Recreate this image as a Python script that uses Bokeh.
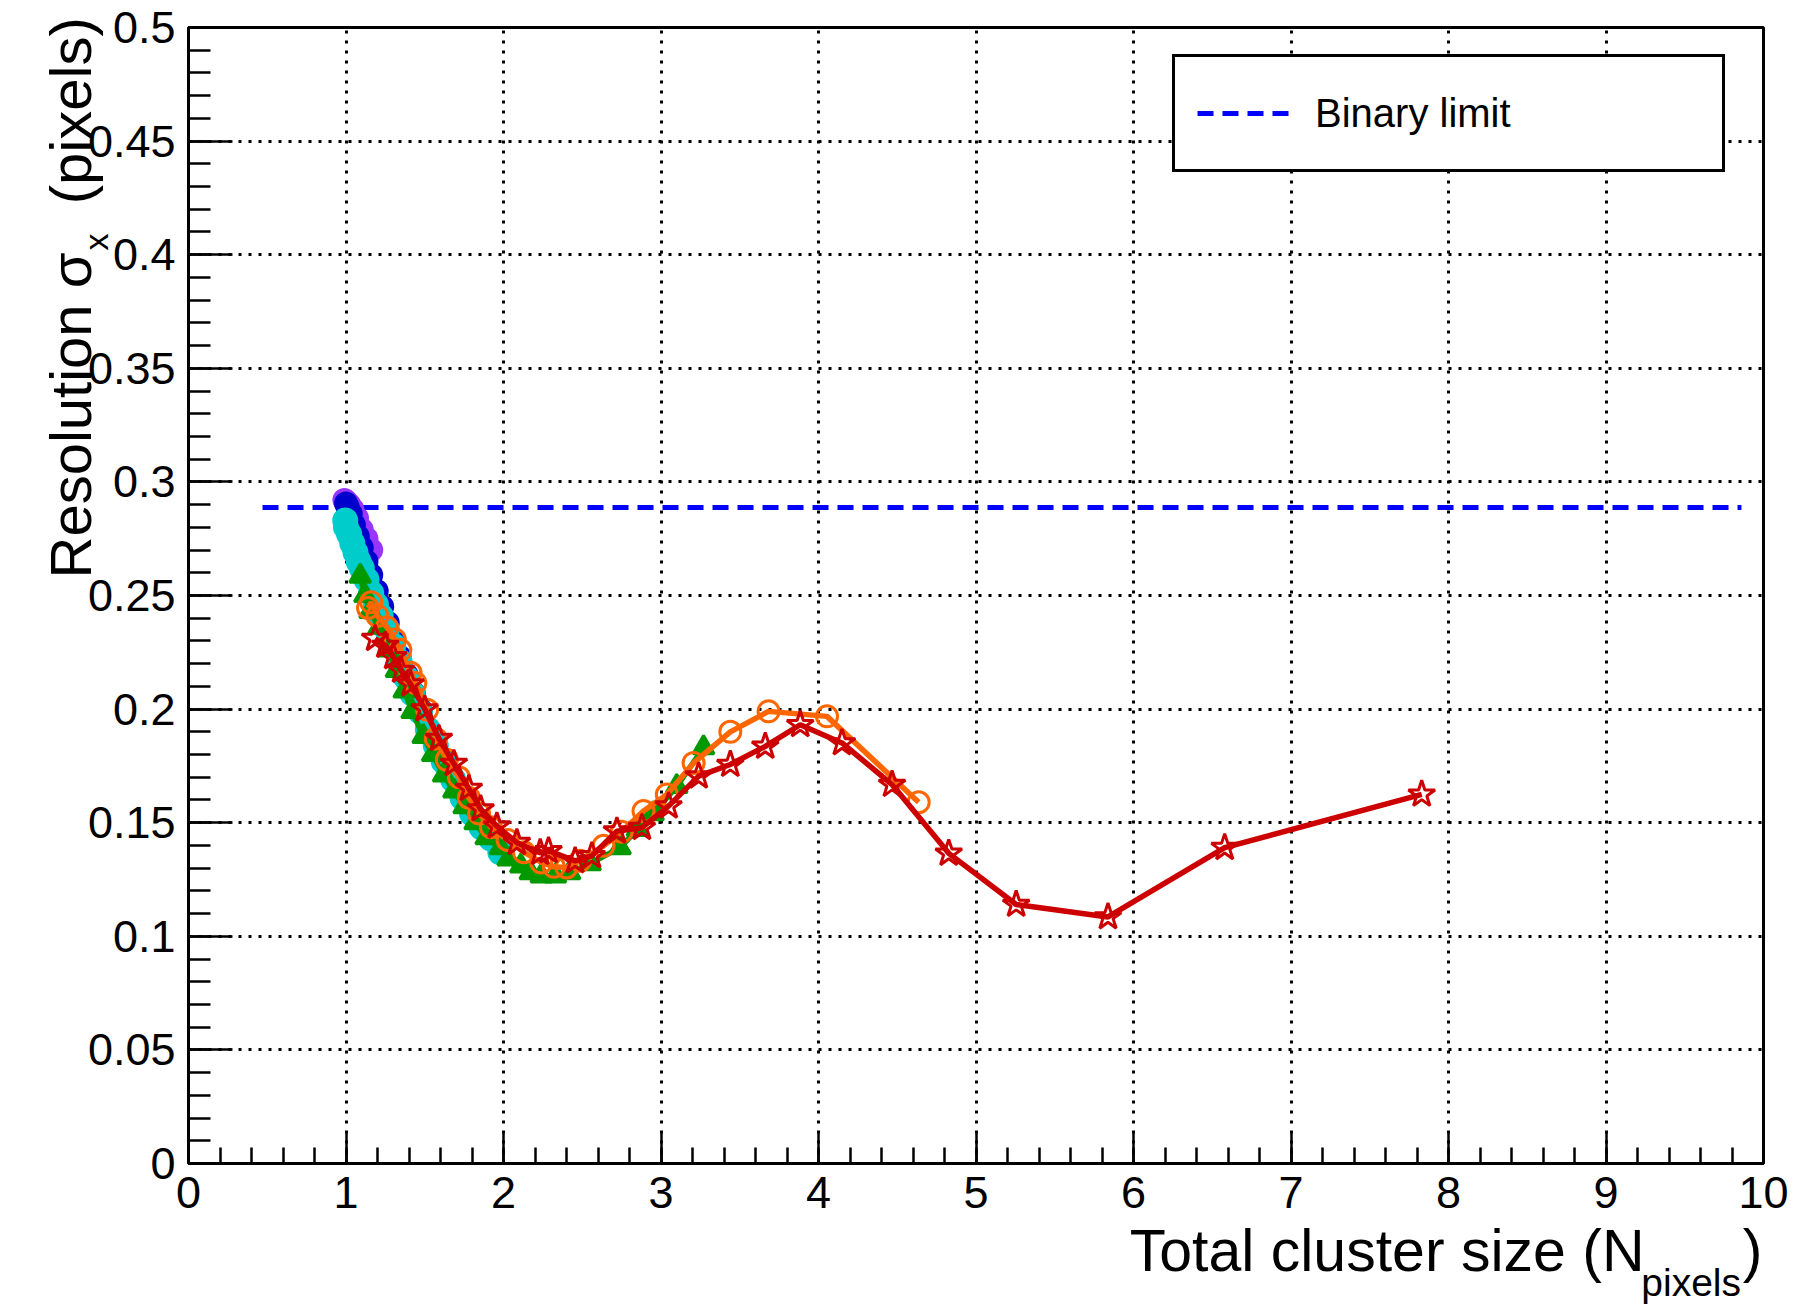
from bokeh.plotting import figure
from bokeh.models import (FixedTicker, CustomJSTickFormatter, Label, Legend, LegendItem,
                          Range1d, LinearAxis)
from bokeh.embed import file_html
from bokeh.resources import INLINE

# ---------------- data ----------------
purple_x = [0.99, 1.00, 1.02, 1.04, 1.07, 1.10, 1.13, 1.16]
purple_y = [0.292, 0.2915, 0.290, 0.288, 0.284, 0.279, 0.275, 0.270]

blue_x = [1.00, 1.01, 1.03, 1.05, 1.075, 1.10, 1.13, 1.16, 1.195, 1.23, 1.265, 1.30, 1.34, 1.385, 1.43, 1.47]
blue_y = [0.2905, 0.289, 0.286, 0.281, 0.276, 0.271, 0.265, 0.259, 0.252, 0.245, 0.238, 0.231, 0.223,
          0.215, 0.207, 0.200]

cyan_x = [0.995, 1.00, 1.02, 1.04, 1.06, 1.08, 1.10, 1.13, 1.16, 1.19, 1.22, 1.26, 1.30, 1.34, 1.38,
          1.42, 1.47, 1.52, 1.57, 1.62, 1.68, 1.74, 1.80, 1.86, 1.92, 1.98]
cyan_y = [0.283, 0.280, 0.277, 0.273, 0.269, 0.265, 0.262, 0.257, 0.251, 0.246, 0.241, 0.235, 0.228,
          0.221, 0.214, 0.207, 0.199, 0.191, 0.184, 0.177, 0.169, 0.161, 0.154, 0.148, 0.143, 0.137]

green_x = [1.09, 1.12, 1.153, 1.21, 1.27, 1.32, 1.37, 1.42, 1.49, 1.55, 1.62, 1.685, 1.75, 1.82, 1.89,
           1.98, 2.03, 2.11, 2.17, 2.24, 2.33, 2.42, 2.55, 2.74, 2.85, 2.95, 3.10, 3.27]
green_y = [0.2585, 0.250, 0.243, 0.236, 0.226, 0.217, 0.208, 0.199, 0.188, 0.180, 0.171, 0.164, 0.157,
           0.150, 0.1434, 0.139, 0.134, 0.131, 0.128, 0.1266, 0.1266, 0.128, 0.132, 0.139, 0.147, 0.154,
           0.166, 0.183]

orange_x = [1.14, 1.16, 1.20, 1.26, 1.31, 1.345, 1.41, 1.44, 1.515, 1.57, 1.64, 1.717, 1.78, 1.845, 1.92,
            2.026, 2.13, 2.24, 2.32, 2.40, 2.487, 2.635, 2.75, 2.889, 3.037, 3.207, 3.44, 3.683, 4.054, 4.636]
orange_y = [0.2445, 0.247, 0.241, 0.236, 0.2306, 0.226, 0.216, 0.2115, 0.1997, 0.187, 0.1777, 0.170, 0.161,
            0.154, 0.148, 0.1424, 0.137, 0.1325, 0.1306, 0.1303, 0.1332, 0.1398, 0.146, 0.1551, 0.1624,
            0.1763, 0.190, 0.199, 0.1968, 0.159]

red_x = [1.185, 1.25, 1.30, 1.35, 1.41, 1.50, 1.59, 1.685, 1.78, 1.855, 1.958, 2.085, 2.233, 2.286, 2.455,
         2.561, 2.72, 2.879, 3.048, 3.239, 3.44, 3.662, 3.884, 4.149, 4.467, 4.827, 5.255, 5.838, 6.579, 7.83]
red_y = [0.231, 0.228, 0.223, 0.217, 0.211, 0.200, 0.187, 0.176, 0.165, 0.156, 0.1485, 0.1412, 0.1368,
         0.1376, 0.1332, 0.1354, 0.1463, 0.1478, 0.1573, 0.1705, 0.1756, 0.1836, 0.1931, 0.1851, 0.1668,
         0.1365, 0.114, 0.1085, 0.139, 0.1625]

binary_limit = 0.2887
binary_x = [0.47, 9.86]

x_ticks = [0, 1, 2, 3, 4, 5, 6, 7, 8, 9, 10]
y_ticks = [0, 0.05, 0.1, 0.15, 0.2, 0.25, 0.3, 0.35, 0.4, 0.45, 0.5]
x_minor = [i * 0.2 for i in range(51)]
y_minor = [i * 0.01 for i in range(51)]

FONT = "Liberation Sans"
NB = "\u00a0"

# ---------------- figure ----------------
W, H = 1808, 1306
FL, FT = 188, 27
FW, FH = 1575, 1136
FR, FB = W - FL - FW, H - FT - FH

p = figure(width=W, height=H, output_backend="svg", toolbar_location=None,
           x_range=Range1d(0, 10), y_range=Range1d(0, 0.5),
           min_border_left=FL, min_border_right=FR, min_border_top=FT, min_border_bottom=FB)
p.background_fill_color = "white"
p.border_fill_color = "white"
p.outline_line_color = "black"
p.outline_line_width = 3
p.outline_line_alpha = 1.0

for ax in (p.xaxis[0], p.yaxis[0]):
    ax.axis_line_width = 3
    ax.major_tick_line_width = 2.5
    ax.minor_tick_line_width = 2.5
    ax.major_tick_out = 0
    ax.minor_tick_out = 0
    ax.major_label_text_font = FONT
    ax.major_label_text_font_size = "45px"
    ax.major_label_text_color = "black"
    ax.axis_label = None

p.xaxis[0].ticker = FixedTicker(ticks=x_ticks, minor_ticks=x_minor)
p.yaxis[0].ticker = FixedTicker(ticks=y_ticks, minor_ticks=y_minor)
p.xaxis[0].major_tick_in = 32
p.xaxis[0].minor_tick_in = 16
p.yaxis[0].major_tick_in = 44
p.yaxis[0].minor_tick_in = 22
p.xaxis[0].major_label_standoff = 13
p.yaxis[0].major_label_standoff = 13
p.yaxis[0].formatter = CustomJSTickFormatter(
    code="return tick.toFixed(2).replace(/0+$/, '').replace(/\\.$/, '');")

for g in (p.xgrid[0], p.ygrid[0]):
    g.grid_line_color = "black"
    g.grid_line_width = 3
    g.grid_line_dash = "3 7"
p.xgrid[0].ticker = FixedTicker(ticks=x_ticks)
p.ygrid[0].ticker = FixedTicker(ticks=y_ticks)

# binary limit line
bl = p.line(binary_x, [binary_limit, binary_limit], line_color="#0000ff", line_width=5,
            line_dash="16 9")

# series
series = [
    (purple_x, purple_y, "#9a35ff", "circle", True, 21),
    (blue_x, blue_y, "#0000cc", "circle", True, 21),
    (cyan_x, cyan_y, "#00cccc", "circle", True, 23),
    (green_x, green_y, "#009900", "triangle", True, 21),
    (orange_x, orange_y, "#ff6600", "circle", False, 21),
    (red_x, red_y, "#cc0000", "star", False, 28),
]
for xs, ys, col, mk, filled, sz in series:
    p.line(xs, ys, line_color=col, line_width=5.5)
    p.scatter(xs, ys, marker=mk, size=sz, line_color=col, line_width=3,
              fill_color=col if filled else None)

# legend
LW, LH = 547, 112
legend = Legend(items=[LegendItem(label="Binary limit", renderers=[bl])],
                location=(984, FH - 33 - LH), margin=0, padding=22, spacing=0,
                glyph_width=93, glyph_height=40, label_standoff=25,
                label_width=LW - 22 - 93 - 25 - 22, label_height=LH - 44,
                label_text_font=FONT, label_text_font_size="40px", label_text_color="black",
                border_line_color="black", border_line_width=3, border_line_alpha=1.0,
                background_fill_color="white", background_fill_alpha=1.0)
p.add_layout(legend)


# ---------------- titles (in side panels, positioned in data units) ----------------
def dx(px):
    return (px - FL) / (FW / 10.0)


def dy(py):
    return (FT + FH - py) / (FH / 0.5)


def lab(text, px, py, size, side, angle=0, align="left", font=FONT):
    p.add_layout(Label(x=dx(px), y=dy(py), text=text,
                       text_font=font, text_font_size=f"{size}px", text_color="black",
                       text_align=align, text_baseline="middle", angle=angle,
                       angle_units="deg"), side)


MID = 0.3465  # distance from alphabetic baseline to the middle of the text box, in em

# x title  (baseline at y=1271)
lab("Total cluster size (N" + NB * 6 + ")", 1762, 1271 - MID * 59, 59, "below", align="right")

# subscript "pixels": carried by a tick-less extra axis below (label centred on the frame, shifted
# right by leading no-break spaces), pulled up with a negative standoff
sub_axis = LinearAxis(ticker=FixedTicker(ticks=[]),
                      axis_line_color=None,
                      major_tick_line_color=None, minor_tick_line_color=None,
                      major_label_standoff=0, major_tick_in=0, major_tick_out=0,
                      minor_tick_in=0, minor_tick_out=0,
                      axis_label=NB * 132 + "pixels",
                      axis_label_standoff=-16, axis_label_text_font=FONT,
                      axis_label_text_font_size="39px", axis_label_text_font_style="normal",
                      axis_label_text_color="black")
p.add_layout(sub_axis, "below")

# y title (rotated; baseline at x=90)
lab("Resolution \u03c3" + NB * 3 + "(pixels)", 90 - MID * 58, 578, 58, "left", angle=90)
lab("x", 107 - MID * 34, 250, 34, "above", angle=90)

open("out.html", "w").write(file_html(p, INLINE))
